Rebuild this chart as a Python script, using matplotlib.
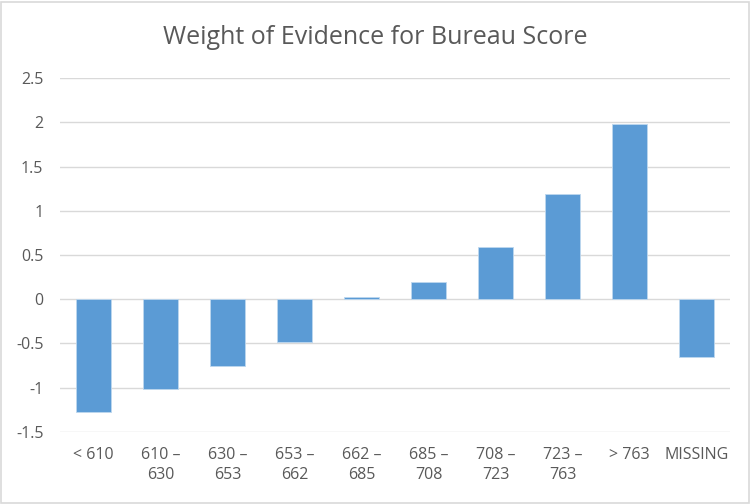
import numpy as np
import matplotlib
matplotlib.use("Agg")
import matplotlib.pyplot as plt
from matplotlib.patches import Rectangle

# bins and weight of evidence values
categories = ["< 610", "610 \u2013\n630", "630 \u2013\n653", "653 \u2013\n662", "662 \u2013\n685",
              "685 \u2013\n708", "708 \u2013\n723", "723 \u2013\n763", "> 763", "MISSING"]
woe = [-1.27, -1.01, -0.76, -0.48, 0.03, 0.20, 0.59, 1.19, 1.98, -0.65]
yticks = [-1.5, -1, -0.5, 0, 0.5, 1, 1.5, 2, 2.5]
ytick_labels = ["-1.5", "-1", "-0.5", "0", "0.5", "1", "1.5", "2", "2.5"]

plt.rcParams['font.family'] = ['Open Sans', 'DejaVu Sans']

fig = plt.figure(figsize=(7.51, 5.04), dpi=100)
ax = fig.add_axes([0.080, 0.143, 0.892, 0.702])

x = np.arange(len(categories))
ax.bar(x, woe, width=0.53, color="#5B9BD5", edgecolor="#BDD7EE", linewidth=0.6, zorder=3)

ax.set_xlim(-0.5, len(categories) - 0.5)
ax.set_ylim(-1.5, 2.5)
ax.set_yticks(yticks)
ax.set_yticklabels(ytick_labels)
ax.set_xticks(x)
ax.set_xticklabels(categories, linespacing=1.35)
ax.grid(axis="y", color="#D9D9D9", linewidth=1, zorder=0)
ax.tick_params(axis="both", length=0, colors="#595959", labelsize=11.5)
ax.tick_params(axis="x", pad=11)
ax.tick_params(axis="y", pad=12)
for s in ax.spines.values():
    s.set_visible(False)

fig.text(0.5, 0.925, "Weight of Evidence for Bureau Score", ha="center", va="center",
         fontsize=18, color="#595959")

# chart border like the spreadsheet frame
fig.patches.append(Rectangle((0.001, 0.001), 0.997, 0.996, transform=fig.transFigure,
                             fill=False, edgecolor="#D9D9D9", linewidth=1.2))

fig.savefig("out.png", dpi=100)
